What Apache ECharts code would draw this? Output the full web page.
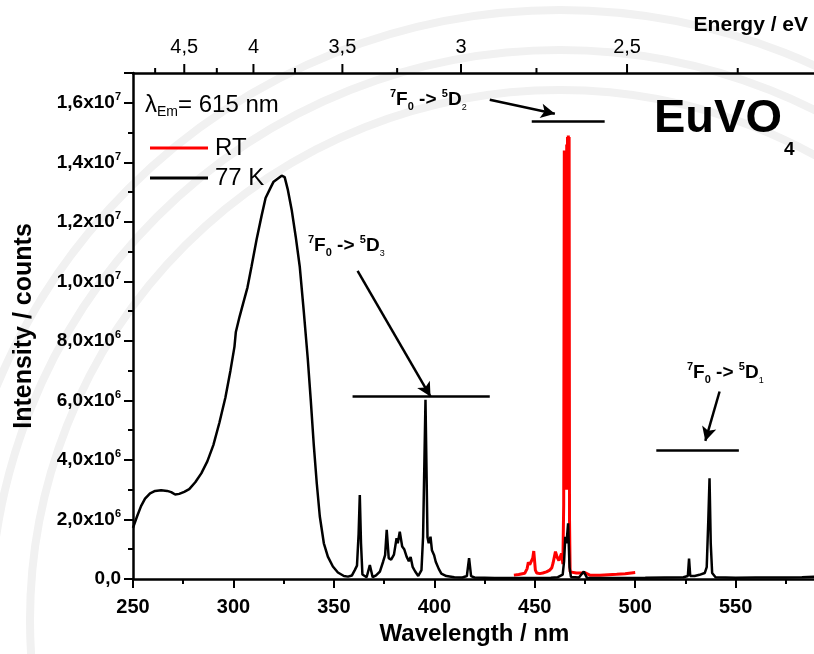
<!DOCTYPE html>
<html><head><meta charset="utf-8">
<script src="https://cdn.jsdelivr.net/npm/echarts@6/dist/echarts.min.js"></script>
<style>html,body{margin:0;padding:0;background:#fff}#c{width:814px;height:654px}</style>
</head><body><div id="c"></div>
<script>
// ---- data (intensity in units of 10^6 counts) ----
const wavelength77K = [250,252,254,256,258.5,261,264,267,269,271,273,275.5,278,281,284,287,290,293,296,298.5,300.5,301.2,303,305,307,309,311.5,314,316,318.5,320,322,324,325.5,327,329,331,333,335,337,338.5,340,341.5,343,345,347,349.5,352,355,357,359,360.4,361.5,362.3,362.9,363.5,364.2,366.3,367.9,369.3,371,372.9,374.5,375.5,376.3,377.3,378.5,379.9,381.2,381.8,382.8,384,385,386.2,387.3,388.2,389.2,390.4,392,393.6,394.4,395.6,396.6,397.2,398.1,398.8,399.9,400.7,402.2,403.5,406,410,414,416.2,417.3,418.3,420,430,440,450,458,461.5,463.9,464.6,465.2,465.8,466.6,467.3,468,472,474.4,476,490,505,515,524,526.2,526.8,527.4,529.6,532,534.6,535.6,536.4,537,537.6,538.3,540,550,560,575,583,590];
const intensity77K = [1.72,2.1,2.45,2.7,2.88,2.96,2.98,2.96,2.92,2.84,2.86,2.93,3.02,3.25,3.55,3.95,4.5,5.25,6.1,7.0,7.8,8.3,8.8,9.3,9.8,10.5,11.4,12.2,12.8,13.15,13.35,13.45,13.55,13.5,13.1,12.4,11.5,10.5,9.0,7.4,6.0,4.5,3.2,2.1,1.2,0.75,0.42,0.22,0.1,0.08,0.12,0.3,0.45,1.5,2.82,1.2,0.15,0.06,0.47,0.06,0.12,0.25,0.58,0.8,1.65,0.7,0.65,0.82,1.37,1.2,1.59,1.09,1.0,0.75,0.6,0.74,0.41,0.26,0.1,0.3,1.42,6.02,1.4,1.2,1.42,0.97,0.8,0.58,0.34,0.18,0.1,0.06,0.05,0.1,0.7,0.1,0.05,0.03,0.03,0.03,0.04,0.06,0.15,0.6,1.42,1.2,1.87,0.4,0.07,0.05,0.25,0.04,0.03,0.04,0.05,0.06,0.1,0.69,0.1,0.1,0.14,0.2,0.4,2.0,3.38,1.2,0.2,0.06,0.04,0.05,0.05,0.06,0.08];
const wavelengthRT = [439.6,442,445,446.2,446.8,447.5,448.2,449.0,449.5,450.3,451,452.5,454,455.8,457.5,458.5,459.1,460.3,461.1,462,463.3,464,464.4,464.7,464.9,465.1,465.3,465.5,465.7,465.9,466.1,466.3,466.5,466.7,466.9,467.1,467.3,467.6,470.7,473.5,474.9,477.4,482.5,490.8,495,500];
const intensityRT = [0.13,0.15,0.19,0.35,0.56,0.48,0.5,0.7,0.94,0.3,0.2,0.18,0.2,0.24,0.3,0.38,0.53,0.92,0.74,0.62,0.86,0.5,2.5,14.4,3,14.35,3,14.3,4,14.6,3,14.85,3,14.9,3.5,14.85,2,0.24,0.2,0.2,0.22,0.13,0.13,0.16,0.18,0.22];
const seriesNames = ['RT', '77 K'];
const energyMajor = [4.5, 4, 3.5, 3, 2.5];
const energyMajorLabels = ['4,5', '4', '3,5', '3', '2,5'];
const energyMinor = [4.75, 4.25, 3.75, 3.25, 2.75, 2.25];
const HC = 1239.84; // eV*nm

// annotation guides (data coordinates: wavelength, intensity)
const guideLines = [
  [[448.5, 15.39], [484.8, 15.39]],
  [[359.3, 6.15], [427.6, 6.15]],
  [[510.5, 4.34], [551.6, 4.34]]
];
const guideArrows = [
  [[427.6, 16.1], [460.0, 15.63]],
  [[361.8, 10.35], [398.1, 6.13]],
  [[542.0, 6.30], [534.9, 4.64]]
];

const X_MIN = 250, X_MAX = 590, Y_MAX = 17;
const FONT = '"Liberation Sans", Arial, sans-serif';

function zip(a, b) { return a.map((v, i) => [v, b[i]]); }

function yLabel(v) {
  if (v === 0) return '{m|0,0}';
  if (Math.abs(v / 2 - Math.round(v / 2)) > 1e-6) return '';
  const exp = v >= 10 ? 7 : 6;
  const m = v >= 10 ? v / 10 : v;
  return '{m|' + m.toFixed(1).replace('.', ',') + 'x10}{s|' + exp + '}';
}

const energyData = energyMajor.map((E, i) => [HC / E, 1, i])
  .concat(energyMinor.map(E => [HC / E, 0, -1]));

function renderEnergyTick(params, api) {
  const lam = api.value(0);
  const major = api.value(1) === 1;
  const p = api.coord([lam, Y_MAX]);
  const top = params.coordSys.y;
  const len = major ? 9 : 5;
  const children = [{
    type: 'line',
    shape: { x1: p[0], y1: top, x2: p[0], y2: top - len },
    style: { stroke: '#000', lineWidth: 2 }
  }];
  if (major) {
    children.push({
      type: 'text',
      style: {
        text: energyMajorLabels[api.value(2)], x: p[0], y: top - 26,
        align: 'center', verticalAlign: 'middle',
        font: '20px ' + FONT, fill: '#000'
      }
    });
  }
  return { type: 'group', children };
}

function transRich(sup0, sub0, sup1, sub1) {
  return '{s|' + sup0 + '}{m|F}{b|' + sub0 + '}{m| -> }{s|' + sup1 + '}{m|D}{c|' + sub1 + '}';
}
const transRichStyle = {
  m: { fontSize: 19, fontWeight: 'bold', fontFamily: FONT, lineHeight: 24, fill: '#000' },
  s: { fontSize: 11, fontWeight: 'bold', fontFamily: FONT, lineHeight: 11, verticalAlign: 'top' },
  b: { fontSize: 11, fontWeight: 'bold', fontFamily: FONT, lineHeight: 11, verticalAlign: 'bottom' },
  c: { fontSize: 9, fontWeight: 'normal', fontFamily: FONT, lineHeight: 9, verticalAlign: 'bottom' }
};

const bgArc = r => ({
  type: 'circle', silent: true, z: -100,
  shape: { cx: 560, cy: 620, r: r },
  style: { fill: null, stroke: '#f1f1f1', lineWidth: 8 }
});

const chart = echarts.init(document.getElementById('c'), null, { renderer: 'canvas' });
chart.setOption({
  animation: false,
  backgroundColor: '#fff',
  grid: { left: 133, top: 73, width: 683, height: 506, containLabel: false, outerBoundsMode: 'none' },
  legend: {
    data: seriesNames, orient: 'vertical', left: 145, top: 131,
    itemWidth: 58, itemHeight: 3, itemGap: 6, icon: 'rect',
    textStyle: { fontSize: 24, fontFamily: FONT, color: '#000', lineHeight: 24, padding: [0, 0, 0, 2] },
    selectedMode: false
  },
  xAxis: [{
    type: 'value', min: X_MIN, max: X_MAX, interval: 50, position: 'bottom',
    name: 'Wavelength / nm', nameLocation: 'middle', nameGap: 41,
    nameTextStyle: { fontSize: 24, fontWeight: 'bold', fontFamily: FONT, color: '#000' },
    axisLine: { lineStyle: { color: '#000', width: 2.5 } },
    axisTick: { inside: false, length: 9, lineStyle: { color: '#000', width: 2 } },
    minorTick: { show: true, splitNumber: 2, length: 5, lineStyle: { color: '#000', width: 2 } },
    axisLabel: {
      margin: 18, fontSize: 20, fontWeight: 'bold', fontFamily: FONT, color: '#000',
      formatter: v => (v % 50 === 0 ? String(v) : '')
    },
    splitLine: { show: false }
  }, {
    type: 'value', min: X_MIN, max: X_MAX, position: 'top',
    axisLine: { lineStyle: { color: '#000', width: 2.5 } },
    axisTick: { show: false }, axisLabel: { show: false }, splitLine: { show: false }
  }],
  yAxis: {
    type: 'value', min: 0, max: Y_MAX, interval: 2,
    name: 'Intensity / counts', nameLocation: 'middle', nameGap: 96,
    nameTextStyle: { fontSize: 25, fontWeight: 'bold', fontFamily: FONT, color: '#000' },
    axisLine: { lineStyle: { color: '#000', width: 2.5 } },
    axisTick: { inside: false, length: 9, lineStyle: { color: '#000', width: 2 } },
    minorTick: { show: true, splitNumber: 2, length: 5, lineStyle: { color: '#000', width: 2 } },
    axisLabel: {
      margin: 12, formatter: yLabel, showMaxLabel: false,
      rich: {
        m: { fontSize: 19, fontWeight: 'bold', fontFamily: FONT, color: '#000', lineHeight: 22 },
        s: { fontSize: 11, fontWeight: 'bold', fontFamily: FONT, color: '#000', lineHeight: 11, verticalAlign: 'top' }
      }
    },
    splitLine: { show: false }
  },
  series: [{
    name: seriesNames[0], type: 'line', data: zip(wavelengthRT, intensityRT),
    symbol: 'none', color: '#ff0000', lineStyle: { color: '#ff0000', width: 3 }, z: 2
  }, {
    name: seriesNames[1], type: 'line', data: zip(wavelength77K, intensity77K),
    symbol: 'none', color: '#000', lineStyle: { color: '#000', width: 2.5 }, z: 3,
    markLine: {
      silent: true, animation: false, symbol: ['none', 'none'], symbolSize: [11, 14],
      lineStyle: { color: '#000', width: 2.5, type: 'solid' },
      label: { show: false },
      data: guideLines.map(l => [{ coord: l[0] }, { coord: l[1] }])
        .concat(guideArrows.map(a => [{ coord: a[0], symbol: 'none' }, { coord: a[1], symbol: 'arrow' }]))
    }
  }, {
    type: 'custom', name: 'energy', data: energyData, renderItem: renderEnergyTick,
    clip: false, silent: true, z: 5, xAxisIndex: 0, yAxisIndex: 0
  }],
  graphic: [
    bgArc(530), bgArc(570), bgArc(610),
    { type: 'text', right: 6, top: 15,
      style: { text: 'Energy / eV', font: 'bold 21px ' + FONT, fill: '#000' } },
    { type: 'text', x: 145, y: 105,
      style: { text: '{l|λ}{e|Em}{t|= 615 nm}', verticalAlign: 'middle', rich: {
        l: { fontSize: 24, fontFamily: FONT, lineHeight: 28 },
        e: { fontSize: 14, fontFamily: FONT, lineHeight: 14, verticalAlign: 'bottom' },
        t: { fontSize: 24, fontFamily: FONT, lineHeight: 28 } }, fill: '#000' } },
    { type: 'text', x: 654, y: 119,
      style: { text: 'EuVO', font: 'bold 47px ' + FONT, fill: '#000', verticalAlign: 'middle' } },
    { type: 'text', x: 784, y: 150,
      style: { text: '4', font: 'bold 19px ' + FONT, fill: '#000', verticalAlign: 'middle' } },
    { type: 'text', x: 390, y: 100,
      style: { text: transRich('7', '0', '5', '2'), verticalAlign: 'middle', rich: transRichStyle, fill: '#000' } },
    { type: 'text', x: 308, y: 246,
      style: { text: transRich('7', '0', '5', '3'), verticalAlign: 'middle', rich: transRichStyle, fill: '#000' } },
    { type: 'text', x: 687, y: 373,
      style: { text: transRich('7', '0', '5', '1'), verticalAlign: 'middle', rich: transRichStyle, fill: '#000' } }
  ]
});
</script></body></html>
